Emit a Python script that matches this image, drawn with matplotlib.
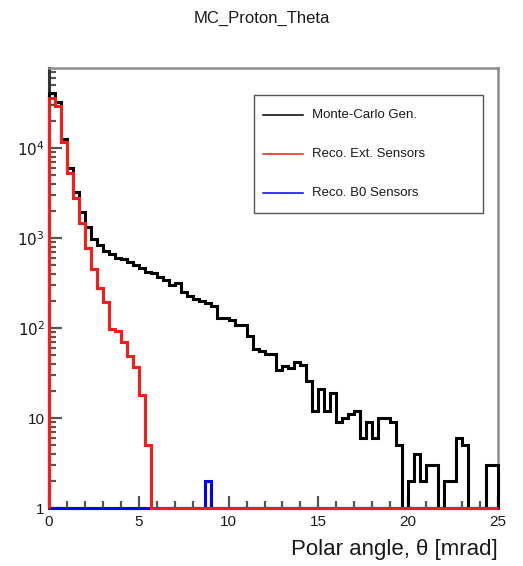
import numpy as np
import matplotlib
matplotlib.use("Agg")
import matplotlib.pyplot as plt
from matplotlib.lines import Line2D
from matplotlib.patches import Rectangle
from matplotlib.ticker import FixedLocator, FuncFormatter, LogLocator, MultipleLocator

plt.rcParams['font.family'] = ['Liberation Sans', 'DejaVu Sans']

# 75 bins of 1/3 mrad between 0 and 25 mrad
theta_lo, theta_hi, n_bins = 0.0, 25.0, 75

# Monte-Carlo generated protons
mc_gen = [41000, 32500, 12800, 6050, 3220, 1960, 1340, 980, 830, 720,
          660, 605, 580, 545, 505, 470, 420, 410, 372, 341,
          300, 314, 253, 227, 212, 198, 188, 176, 131, 131,
          123, 108, 108, 81, 59, 55, 52, 52, 34, 38,
          36, 42, 39, 26, 12, 21, 12, 19, 9, 10,
          11, 12, 6, 9, 6, 10, 10, 9, 5, 0,
          2, 4, 2, 3, 3, 0, 2, 2, 6, 5,
          0, 0, 0, 3, 3]

# Reconstructed in the external (roman pot) sensors
reco_ext = [36000, 29500, 11700, 5300, 2800, 1480, 770, 450, 276, 196,
            97, 93, 70, 49, 37, 18, 5, 0, 0, 0,
            0, 0, 0, 0, 0, 0, 0, 0, 0, 0,
            0, 0, 0, 0, 0, 0, 0, 0, 0, 0,
            0, 0, 0, 0, 0, 0, 0, 0, 0, 0,
            0, 0, 0, 0, 0, 0, 0, 0, 0, 0,
            0, 0, 0, 0, 0, 0, 0, 0, 0, 0,
            0, 0, 0, 0, 0]

# Reconstructed in the B0 sensors
reco_b0 = [0, 0, 0, 0, 0, 0, 0, 0, 0, 0,
           0, 0, 0, 0, 0, 0, 0, 0, 0, 0,
           0, 0, 0, 0, 0, 0, 2, 0, 0, 0,
           0, 0, 0, 0, 0, 0, 0, 0, 0, 0,
           0, 0, 0, 0, 0, 0, 0, 0, 0, 0,
           0, 0, 0, 0, 0, 0, 0, 0, 0, 0,
           0, 0, 0, 0, 0, 0, 0, 0, 0, 0,
           0, 0, 0, 0, 0]

labels = ["Monte-Carlo Gen.", "Reco. Ext. Sensors", "Reco. B0 Sensors"]
colors = ["black", "#ff1a1a", "#0000ff"]

edges = np.linspace(theta_lo, theta_hi, n_bins + 1)
ymin, ymax = 1, 78000

fig = plt.figure(figsize=(5.23, 5.66), dpi=100)
ax = fig.add_axes([49/523, 1 - 508/566, (498-49)/523, (508-68)/566])

# draw order like the ROOT canvas: black, blue, red (empty bins sit on the axis)
for z, (vals, col) in enumerate([(mc_gen, colors[0]), (reco_b0, colors[2]), (reco_ext, colors[1])]):
    v = np.clip(np.array(vals, dtype=float), ymin, None)
    ax.stairs(v, edges, baseline=ymin, fill=False, color=col, lw=2.2,
              clip_on=False, zorder=3 + z)

ax.set_yscale("log")
ax.set_xlim(theta_lo, theta_hi)
ax.set_ylim(ymin, ymax)

ax.xaxis.set_major_locator(MultipleLocator(5))
ax.xaxis.set_minor_locator(MultipleLocator(1))
ax.yaxis.set_major_locator(FixedLocator([1, 10, 100, 1000, 10000]))
ax.yaxis.set_minor_locator(LogLocator(base=10, subs=np.arange(2, 10), numticks=20))
ylab = {1: "1", 10: "10", 100: r"$10^{2}$", 1000: r"$10^{3}$", 10000: r"$10^{4}$"}
ax.yaxis.set_major_formatter(FuncFormatter(lambda v, p: ylab.get(int(round(v)), "")))
ax.yaxis.set_minor_formatter(FuncFormatter(lambda v, p: ""))

ax.tick_params(which="both", direction="in", top=False, right=False,
               colors="#555555", labelcolor="#1a1a1a", labelsize=11, width=1.6)
ax.tick_params(which="major", length=9)
ax.tick_params(which="minor", length=5)
ax.tick_params(axis="x", pad=5)
ax.tick_params(axis="y", pad=3)

for s in ["top", "right"]:
    ax.spines[s].set_color("#8c8c8c")
    ax.spines[s].set_linewidth(1.8)
ax.spines["left"].set_color("#333333")
ax.spines["left"].set_linewidth(2.2)
ax.spines["bottom"].set_color("#333333")
ax.spines["bottom"].set_linewidth(2.2)

fig.text(0.5, 1 - 18/566, "MC_Proton_Theta", ha="center", va="center",
         fontsize=12, color="#1a1a1a")
fig.text(498/523, 1 - 550/566, "Polar angle, \u03b8 [mrad]",
         ha="right", va="center", fontsize=16, color="#1a1a1a")

# legend box
W, H = 523.0, 566.0
fig.add_artist(Rectangle((254/W, 1 - 213/H), (483-254)/W, (213-95)/H,
                         transform=fig.transFigure, fill=False,
                         edgecolor="#555555", lw=1.0))
for i, (lab, col) in enumerate(zip(labels, colors)):
    yy = 1 - (115 + 39*i)/H
    fig.add_artist(Line2D([263/W, 303/W], [yy, yy], transform=fig.transFigure,
                          color=col, lw=1.1))
    fig.text(312/W, yy, lab, ha="left", va="center", fontsize=9.5, color="#1a1a1a")

fig.savefig("out.png", dpi=100)
